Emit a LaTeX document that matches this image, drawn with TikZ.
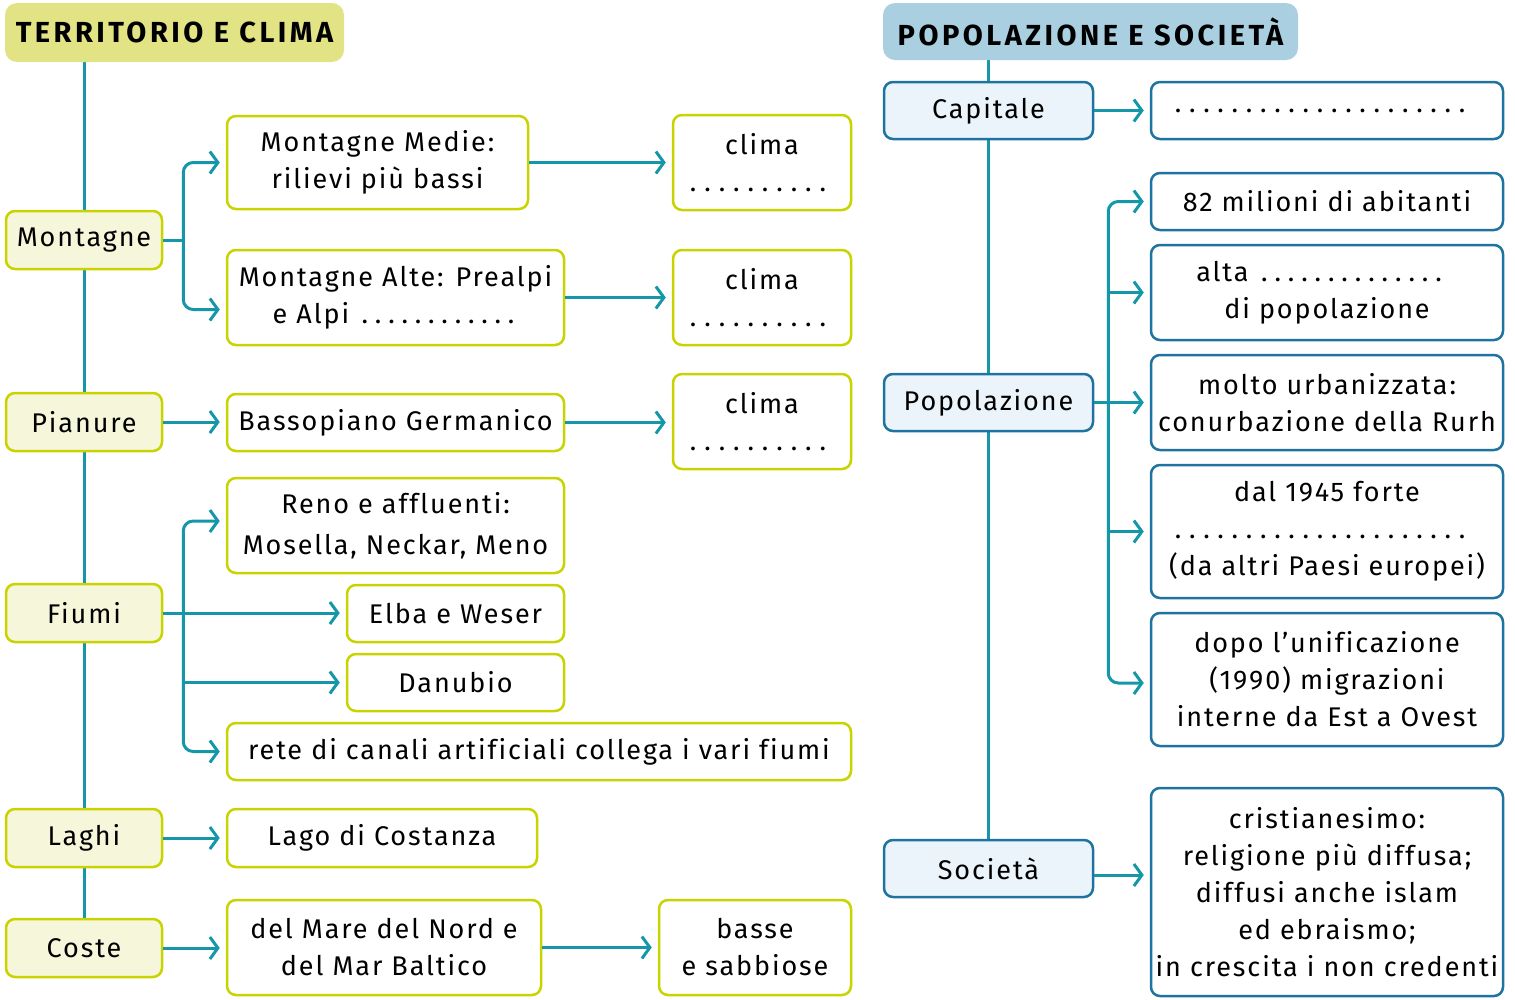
\documentclass[tikz,border=0pt]{standalone}
\usepackage{fontspec}
\setmainfont{Fira Sans}[LetterSpace=7,Ligatures=NoCommon]
\newfontfamily\hdfont{Fira Sans}[LetterSpace=12]
\usetikzlibrary{arrows.meta,backgrounds,calc}
\definecolor{teal}{HTML}{1596A9}
\definecolor{ygreen}{HTML}{C9D300}
\definecolor{yfill}{HTML}{F6F7DA}
\definecolor{yhead}{HTML}{E2E384}
\definecolor{bhead}{HTML}{AACFE1}
\definecolor{bline}{HTML}{1E73A0}
\definecolor{bfill}{HTML}{EAF4FA}
\newcommand\dotrow[2]{\hbox to #1pt{\leaders\hbox to #2pt{\hss.\hss}\hfill}}
\tikzset{
  every node/.style={font=\fontsize{27}{37}\selectfont},
  base/.style={line width=2.5pt, rounded corners=9pt, inner sep=0pt, align=center},
  lbox/.style={base, draw=ygreen, fill=yfill, minimum width=156pt, minimum height=58pt},
  wbox/.style={base, draw=ygreen, fill=white},
  bbox/.style={base, draw=bline, fill=bfill, minimum width=209pt, minimum height=57pt},
  rbox/.style={base, draw=bline, fill=white, minimum width=352pt},
  head/.style={rounded corners=12pt, inner sep=0pt, font=\hdfont\bfseries\fontsize{29}{34}\selectfont},
  conn/.style={draw=teal, line width=3pt},
  arr/.style={conn, -{Straight Barb[length=8pt,width=22pt]}, shorten >=6pt},
}
\begin{document}
\begin{tikzpicture}[x=1pt,y=-1pt]
\useasboundingbox (0,0) rectangle (1515,999);
% left header
\node[head, fill=yhead, minimum width=339pt, minimum height=59pt] (h1) at (174.5,32.5) {TERRITORIO E CLIMA};
\node[lbox] (mont) at (84,240) {Montagne};
\node[lbox] (pian) at (84,422) {Pianure};
\node[lbox] (fiumi) at (84,613) {Fiumi};
\node[lbox] (laghi) at (84,838) {Laghi};
\node[lbox] (coste) at (84,948) {Coste};
\node[wbox, minimum width=301pt, minimum height=93pt] (mm) at (377.5,162.5) {Montagne Medie:\\rilievi più bassi};
\node[wbox, minimum width=337pt, minimum height=95pt] (ma) at (395.5,297.5) {Montagne Alte: Prealpi\\e Alpi \dotrow{160}{13.3}};
\node[wbox, minimum width=178pt, minimum height=95pt] (c1) at (762,162.5) {clima\\\dotrow{152}{14.4}};
\node[wbox, minimum width=178pt, minimum height=95pt] (c2) at (762,297.5) {clima\\\dotrow{152}{14.4}};
\node[wbox, minimum width=178pt, minimum height=95pt] (c3) at (762,421.5) {clima\\\dotrow{152}{14.4}};
\node[wbox, minimum width=337pt, minimum height=57pt] (bg) at (395.5,422.5) {Bassopiano Germanico};
\node[wbox, minimum width=337pt, minimum height=95pt] (reno) at (395.5,525.5) {Reno e affluenti:\\[4pt]Mosella, Neckar, Meno};
\node[wbox, minimum width=217pt, minimum height=57pt] (elba) at (455.5,613.5) {Elba e Weser};
\node[wbox, minimum width=217pt, minimum height=57pt] (danu) at (455.5,682.5) {Danubio};
\node[wbox, minimum width=624pt, minimum height=57pt] (rete) at (539,751.5) {rete di canali artificiali collega i vari fiumi};
\node[wbox, minimum width=310pt, minimum height=58pt] (lago) at (382,838) {Lago di Costanza};
\node[wbox, minimum width=314pt, minimum height=95pt] (mare) at (384,947.5) {del Mare del Nord e\\del Mar Baltico};
\node[wbox, minimum width=192pt, minimum height=95pt] (basse) at (755,947.5) {basse\\e sabbiose};
% right header
\node[head, fill=bhead, minimum width=415pt, minimum height=57pt] (h2) at (1090.5,31.5) {POPOLAZIONE E SOCIETÀ};
\node[bbox] (cap) at (988.5,110.5) {Capitale};
\node[bbox] (pop) at (988.5,402.5) {Popolazione};
\node[bbox] (soc) at (988.5,868.5) {Società};
\node[rbox, minimum height=57pt] (capd) at (1327,110.5) {\dotrow{312}{14.2}};
\node[rbox, minimum height=57pt] (r1) at (1327,201.5) {82 milioni di abitanti};
\node[rbox, minimum height=95pt] (r2) at (1327,292.5) {alta \dotrow{200}{13.4}\\di popolazione};
\node[rbox, minimum height=95pt] (r3) at (1327,402.5) {molto urbanizzata:\\conurbazione della Rurh};
\node[rbox, minimum height=133pt] (r4) at (1327,531.5) {dal 1945 forte\\\dotrow{312}{14.2}\\(da altri Paesi europei)};
\node[rbox, minimum height=133pt] (r5) at (1327,679.5) {dopo l’unificazione\\(1990) migrazioni\\interne da Est a Ovest};
\node[rbox, minimum height=208pt] (r6) at (1327,892) {cristianesimo:\\religione più diffusa;\\diffusi anche islam\\ed ebraismo;\\in crescita i non credenti};
% main trunks
\begin{scope}[on background layer]
\draw[conn] (h1.south -| mont) -- (coste.north);
\draw[conn] (h2.south -| cap) -- (soc.north);
\end{scope}
% Montagne branch
\draw[conn] (mont.east) -- ++(20,0) coordinate (mj);
\draw[arr, rounded corners=10pt] (mj) |- (mm.west);
\draw[arr, rounded corners=10pt] (mj) |- ([yshift=-12pt]ma.west);
\draw[arr] (mm.east) -- (mm.east -| c1.west);
\draw[arr] (ma.east) -- (ma.east -| c2.west);
\draw[arr] (pian.east) -- (pian.east -| bg.west);
\draw[arr] (bg.east) -- (bg.east -| c3.west);
% Fiumi branch
\draw[arr] (fiumi.east) -- (fiumi.east -| elba.west);
\coordinate (fj) at ($(fiumi.east)+(20,0)$);
\draw[arr, rounded corners=10pt] (fj) |- ([yshift=4.5pt]reno.west);
\draw[arr, rounded corners=10pt] (fj) |- (rete.west);
\draw[arr] (fj |- danu.west) -- (danu.west);
\draw[arr] (laghi.east) -- (laghi.east -| lago.west);
\draw[arr] (coste.east) -- (coste.east -| mare.west);
\draw[arr] (mare.east) -- (mare.east -| basse.west);
% right connectors
\draw[arr] (cap.east) -- (cap.east -| capd.west);
\draw[arr] (pop.east) -- (pop.east -| r3.west);
\coordinate (pj) at ($(pop.east)+(14,0)$);
\draw[arr, rounded corners=10pt] (pj) |- (r1.west);
\draw[arr, rounded corners=10pt] (pj) |- ([yshift=-3.5pt]r5.west);
\draw[arr] (pj |- r2.west) -- (r2.west);
\draw[arr] (pj |- r4.west) -- (r4.west);
\draw[arr] ([yshift=-6.5pt]soc.east) -- ([yshift=-6.5pt]soc.east -| r6.west);
\end{tikzpicture}
\end{document}
